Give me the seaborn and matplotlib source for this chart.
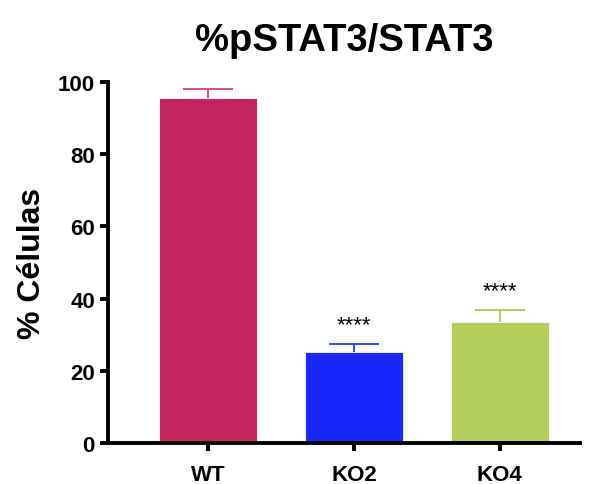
import numpy as np
import pandas as pd
import matplotlib
matplotlib.use("Agg")
import matplotlib.pyplot as plt
import seaborn as sns

# datos
grupos = ["WT", "KO2", "KO4"]
medias = [95.6, 25.1, 33.6]
errores = [2.5, 2.2, 3.2]
signif = ["", "****", "****"]
colores = ["#C2285F", "#1A28FA", "#B3CE5A"]
colores_err = ["#E8468A", "#3345FF", "#B3CE5A"]

sns.set_style("white")
plt.rcParams["font.family"] = ["Liberation Sans", "DejaVu Sans"]
plt.rcParams["text.color"] = "black"
plt.rcParams["axes.labelcolor"] = "black"
plt.rcParams["xtick.color"] = "black"
plt.rcParams["ytick.color"] = "black"

df = pd.DataFrame({"grupo": grupos, "media": medias})

fig = plt.figure(figsize=(5.91, 4.85), dpi=100)
ax = fig.add_axes([0.183, 0.0845, 0.798, 0.7445])

sns.barplot(data=df, x="grupo", y="media", hue="grupo", palette=colores,
            width=0.67, errorbar=None, legend=False, ax=ax, saturation=1,
            edgecolor="white", linewidth=0.6)

x = np.arange(len(grupos))
for i in range(len(grupos)):
    eb = ax.errorbar(x[i], medias[i], yerr=[[0], [errores[i]]], fmt="none",
                     ecolor=colores_err[i], elinewidth=1.4, capsize=18,
                     capthick=1.4, clip_on=False, zorder=0.5)
    # solo la barra de error hacia arriba
    eb[1][0].set_visible(False)
    if signif[i]:
        ax.text(x[i], medias[i] + errores[i] + 2.6, signif[i], ha="center",
                va="bottom", fontsize=16)

ax.set_xlim(-0.685, 2.548)
ax.set_ylim(0, 100)
ax.set_yticks([0, 20, 40, 60, 80, 100])
ax.set_xlabel("")
ax.set_ylabel("% Células", fontsize=23, fontweight="bold", labelpad=8)
ax.set_title("%pSTAT3/STAT3", fontsize=27.5, fontweight="bold", pad=23)

sns.despine(ax=ax)
for s in ["left", "bottom"]:
    ax.spines[s].set_linewidth(2.8)
    ax.spines[s].set_color("black")
ax.tick_params(axis="both", length=6, width=2.8, color="black",
               labelsize=16, direction="out", left=True, bottom=True)
ax.tick_params(axis="x", pad=9)
for lab in ax.get_xticklabels() + ax.get_yticklabels():
    lab.set_fontweight("bold")

fig.savefig("out.png", dpi=100)
